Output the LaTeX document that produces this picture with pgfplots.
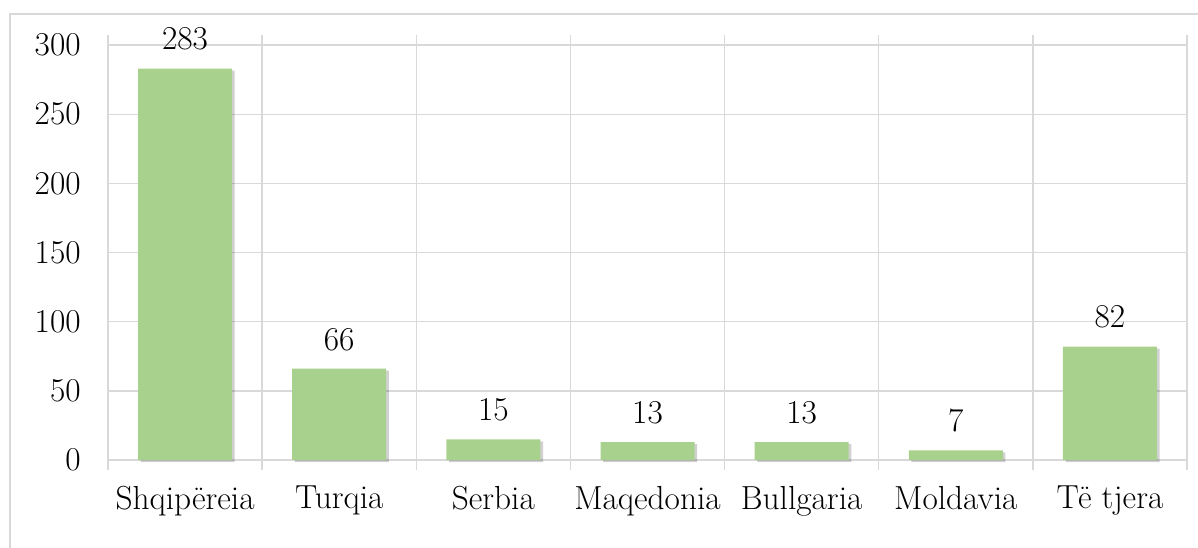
\documentclass[border=0pt]{standalone}
\usepackage{fontspec}
\usepackage{pgfplots}
\pgfplotsset{compat=1.18}
\usetikzlibrary{shadows}
\definecolor{barg}{HTML}{A9D18E}
\definecolor{gridc}{HTML}{D9D9D9}
\begin{document}
\fontsize{25}{30}\selectfont
\begin{tikzpicture}
\useasboundingbox (0,0) rectangle (898.5pt,410.25pt);
\draw[gridc, line width=1.2pt] (7.5pt,-10pt) -- (7.5pt,399.75pt) -- (910pt,399.75pt);
\begin{axis}[
  at={(81pt,65.25pt)}, anchor=south west,
  scale only axis, width=809.25pt, height=311.25pt,
  xmin=-0.5, xmax=6.5, ymin=0, ymax=300,
  ytick={0,50,...,300},
  xtick={0,...,6},
  xticklabels={Shqipëreia,Turqia,Serbia,Maqedonia,Bullgaria,Moldavia,Të tjera},
  minor xtick={-0.5,0.5,...,6.5},
  xminorgrids=true, ymajorgrids=true,
  grid style={gridc, line width=1pt},
  minor grid style={gridc, line width=1pt},
  axis line style={draw=none},
  major tick length=0pt,
  minor tick length=7.5pt,
  tick align=outside,
  minor tick style={gridc, line width=1pt},
  major tick style={draw=none},
  /pgf/number format/assume math mode=true,
  ticklabel style={font=\fontsize{25}{30}\selectfont},
  yticklabel style={xshift=-12pt},
  xticklabel style={yshift=-11pt},
  clip=false,
  nodes near coords,
  every node near coord/.append style={font=\fontsize{25}{30}\selectfont, yshift=5pt},
]
\addplot[ybar, bar width=70.5pt, fill=barg, draw=none,
  drop shadow={shadow xshift=2pt, shadow yshift=-1.5pt, opacity=0.18, fill=black}]
  coordinates {(0,283) (1,66) (2,15) (3,13) (4,13) (5,7) (6,82)};
\end{axis}
\end{tikzpicture}
\end{document}
